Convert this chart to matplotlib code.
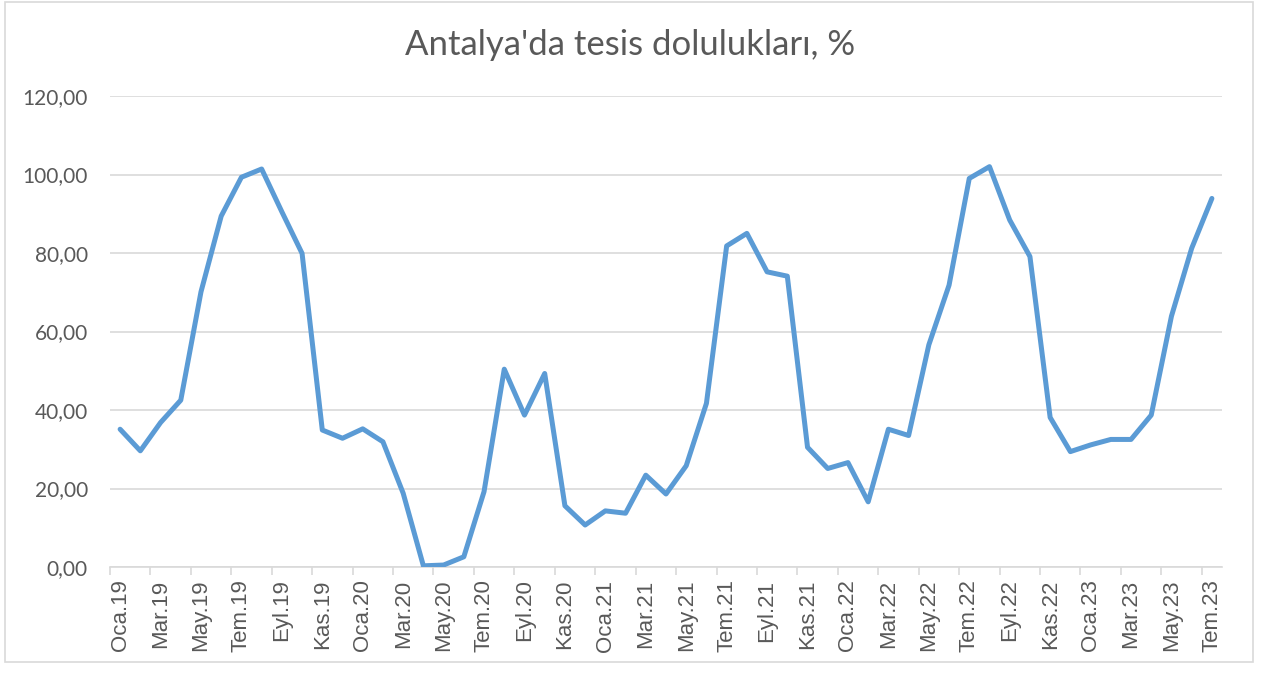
import numpy as np
import matplotlib.pyplot as plt
from matplotlib.patches import Rectangle
from matplotlib.ticker import FuncFormatter

TITLE = "Antalya'da tesis dolulukları, %"

# Month abbreviations (Turkish) and years covered
MONTHS = ["Oca", "Şub", "Mar", "Nis", "May", "Haz",
          "Tem", "Ağu", "Eyl", "Eki", "Kas", "Ara"]
YEARS = ["19", "20", "21", "22", "23"]

# Occupancy, Jan 2019 .. Jul 2023
occupancy = [
    35.1, 29.6, 36.8, 42.5, 70.1, 89.4, 99.3, 101.4, 90.5, 79.9, 34.9, 32.8,
    35.2, 31.9, 18.8, 0.3, 0.5, 2.6, 19.2, 50.4, 38.7, 49.3, 15.6, 10.7,
    14.3, 13.7, 23.4, 18.6, 25.8, 41.7, 81.8, 85.0, 75.2, 74.1, 30.5, 25.1,
    26.6, 16.6, 35.1, 33.5, 56.6, 71.8, 99.0, 102.0, 88.4, 79.1, 38.1, 29.4,
    31.1, 32.5, 32.5, 38.7, 63.9, 81.2, 93.9,
]

y_ticks = [0, 20, 40, 60, 80, 100, 120]

LINE_COLOR = "#5B9BD5"
GRID_COLOR = "#D9D9D9"
TEXT_COLOR = "#595959"

labels = [f"{m}.{y}" for y in YEARS for m in MONTHS][:len(occupancy)]
x = np.arange(len(occupancy))

fig = plt.figure(figsize=(12.61, 6.74), dpi=100)
ax = fig.add_axes([110 / 1261, 1 - 567 / 674, 1112 / 1261, 471 / 674])

ax.plot(x, occupancy, color=LINE_COLOR, lw=3.6, solid_joinstyle="round",
        solid_capstyle="round", zorder=3)

ax.set_xlim(-0.5, len(occupancy) - 0.5)
ax.set_ylim(0, 120)

# Horizontal gridlines
ax.set_yticks(y_ticks)
ax.yaxis.set_major_formatter(FuncFormatter(lambda v, p: f"{v:.2f}".replace(".", ",")))
ax.grid(axis="y", color=GRID_COLOR, lw=1.2)
ax.set_axisbelow(True)
ax.tick_params(axis="y", length=0, pad=16, labelsize=15, labelcolor=TEXT_COLOR)
for t in ax.get_yticklabels():
    t.set_fontfamily("Lato")

# Category labels every two months, tick marks between categories
ax.set_xticks(x[::2])
ax.set_xticklabels(labels[::2], rotation=90, fontsize=16, color=TEXT_COLOR,
                   fontfamily="Liberation Sans")
ax.set_xticks(np.arange(-0.5, len(occupancy), 2), minor=True)
ax.tick_params(axis="x", which="major", length=0, pad=9)
ax.tick_params(axis="x", which="minor", length=6, width=1.2, color=GRID_COLOR)

for side in ["top", "right", "left"]:
    ax.spines[side].set_visible(False)
ax.spines["bottom"].set_color(GRID_COLOR)
ax.spines["bottom"].set_linewidth(1.2)

fig.text(0.5, 1 - 45 / 674, TITLE, ha="center", va="center", fontsize=25,
         color=TEXT_COLOR, fontfamily="Lato")

# Chart-area border
fig.patches.append(Rectangle((5 / 1261, 1 - 662 / 674), 1248 / 1261, 660 / 674,
                             transform=fig.transFigure, fill=False,
                             edgecolor=GRID_COLOR, lw=1.2))

fig.savefig("out.png", dpi=100)
